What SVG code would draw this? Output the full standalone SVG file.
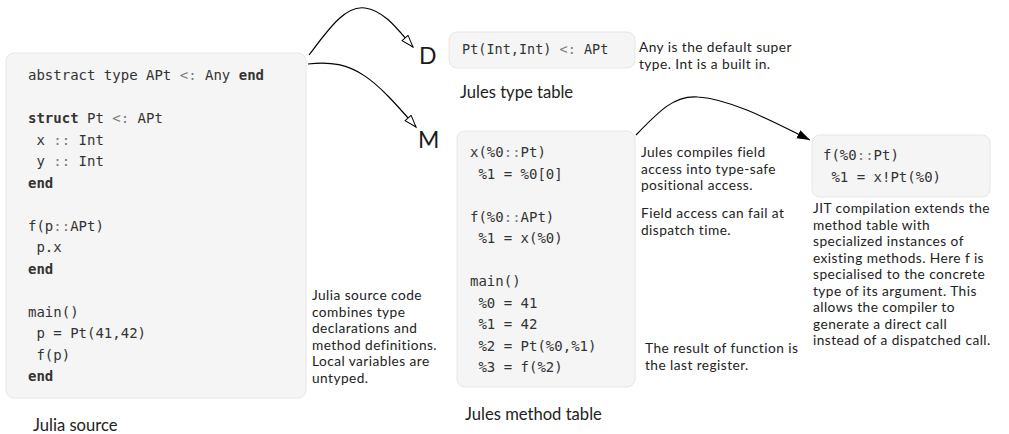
<svg xmlns="http://www.w3.org/2000/svg" width="1009" height="434" viewBox="0 0 1009 434">
<style>
.box{fill:#f5f5f5;stroke:#e6e6e6;stroke-width:1}
.code{font-family:"DejaVu Sans Mono","Liberation Mono",monospace;font-size:14px;fill:#333;white-space:pre}
.kw{font-weight:bold}
.op{fill:#7a7a7a}
.note{font-family:Lato,"Noto Sans",sans-serif;font-size:13.7px;letter-spacing:0.45px;fill:#222}
.cap{font-family:Lato,"Noto Sans",sans-serif;font-size:16.6px;fill:#222}
.big{font-family:Lato,"Noto Sans",sans-serif;font-size:23px;fill:#1a1a1a}
.edge{fill:none;stroke:#000;stroke-width:1.2}
</style>
<defs>
<marker id="open" markerUnits="userSpaceOnUse" markerWidth="16" markerHeight="12" refX="13" refY="4.5" orient="auto">
<path d="M1,0.5 L13,4.5 L1,8.5 Z" fill="#fff" stroke="#000" stroke-width="1"/>
</marker>
<marker id="solid" markerUnits="userSpaceOnUse" markerWidth="16" markerHeight="12" refX="13" refY="4.5" orient="auto">
<path d="M0,0 L13,4.5 L0,9 Z" fill="#000"/>
</marker>
</defs>

<g id="connectors">
<path class="edge" d="M309,55 C328,30 345,5 365,8 C385,11 398,30 413,47" marker-end="url(#open)"/>
<path class="edge" d="M308,64 C355,58 375,80 416,127" marker-end="url(#open)"/>
<path class="edge" d="M636,135 C660,110 675,95 698,97 C730,99 770,120 810,140" marker-end="url(#solid)"/>
</g>

<g id="julia-source">
<rect class="box" x="6" y="53" width="300" height="345" rx="8"/>
<text class="code" x="28" y="80">abstract type APt <tspan class="op">&lt;:</tspan> Any <tspan class="kw">end</tspan></text>
<text class="code" x="28" y="123"><tspan class="kw">struct</tspan> Pt <tspan class="op">&lt;:</tspan> APt</text>
<text class="code" x="28" y="144.5"> x <tspan class="op">::</tspan> Int</text>
<text class="code" x="28" y="166"> y <tspan class="op">::</tspan> Int</text>
<text class="code kw" x="28" y="187.5">end</text>
<text class="code" x="28" y="230.5">f(p<tspan class="op">::</tspan>APt)</text>
<text class="code" x="28" y="252"> p.x</text>
<text class="code kw" x="28" y="273.5">end</text>
<text class="code" x="28" y="316.5">main()</text>
<text class="code" x="28" y="338"> p = Pt(41,42)</text>
<text class="code" x="28" y="359.5"> f(p)</text>
<text class="code kw" x="28" y="381">end</text>
<text class="cap" x="33" y="431">Julia source</text>
<text class="note" x="312" y="300">Julia source code</text>
<text class="note" x="312" y="316.5">combines type</text>
<text class="note" x="312" y="333">declarations and</text>
<text class="note" x="312" y="349.5">method definitions.</text>
<text class="note" x="312" y="366">Local variables are</text>
<text class="note" x="312" y="382.5">untyped.</text>
</g>

<g id="type-table">
<text class="big" x="419" y="64">D</text>
<rect class="box" x="449" y="32" width="186" height="36" rx="8"/>
<text class="code" x="462" y="54" style="font-size:13.5px">Pt(Int,Int) <tspan class="op">&lt;:</tspan> APt</text>
<text class="note" x="639" y="52">Any is the default super</text>
<text class="note" x="639" y="68.5">type. Int is a built in.</text>
<text class="cap" x="460" y="98">Jules type table</text>
</g>

<g id="method-table">
<text class="big" x="418" y="148">M</text>
<rect class="box" x="457" y="131" width="178" height="256" rx="8"/>
<text class="code" x="470" y="157">x(%0<tspan class="op">::</tspan>Pt)</text>
<text class="code" x="470" y="178.5"> %1 = %0[0]</text>
<text class="code" x="470" y="221.5">f(%0<tspan class="op">::</tspan>APt)</text>
<text class="code" x="470" y="243"> %1 = x(%0)</text>
<text class="code" x="470" y="286">main()</text>
<text class="code" x="470" y="307.5"> %0 = 41</text>
<text class="code" x="470" y="329"> %1 = 42</text>
<text class="code" x="470" y="350.5"> %2 = Pt(%0,%1)</text>
<text class="code" x="470" y="372"> %3 = f(%2)</text>
<text class="cap" x="465" y="420">Jules method table</text>
<text class="note" x="641" y="157">Jules compiles field</text>
<text class="note" x="641" y="173.5">access into type-safe</text>
<text class="note" x="641" y="190">positional access.</text>
<text class="note" x="641" y="218">Field access can fail at</text>
<text class="note" x="641" y="234.5">dispatch time.</text>
<text class="note" x="645" y="353">The result of function is</text>
<text class="note" x="645" y="369.5">the last register.</text>
</g>

<g id="jit">
<rect class="box" x="812" y="135" width="178" height="62" rx="8"/>
<text class="code" x="823" y="160">f(%0<tspan class="op">::</tspan>Pt)</text>
<text class="code" x="823" y="181.5"> %1 = x!Pt(%0)</text>
<text class="note" x="813" y="213">JIT compilation extends the</text>
<text class="note" x="813" y="229.5">method table with</text>
<text class="note" x="813" y="246">specialized instances of</text>
<text class="note" x="813" y="262.5">existing methods. Here f is</text>
<text class="note" x="813" y="279">specialised to the concrete</text>
<text class="note" x="813" y="295.5">type of its argument. This</text>
<text class="note" x="813" y="312">allows the compiler to</text>
<text class="note" x="813" y="328.5">generate a direct call</text>
<text class="note" x="813" y="345">instead of a dispatched call.</text>
</g>
</svg>
